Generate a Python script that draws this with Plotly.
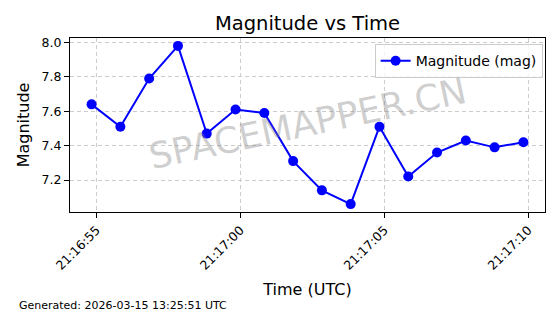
import plotly.graph_objects as go

times = [
    "2026-03-14 21:16:54.830", "2026-03-14 21:16:55.830", "2026-03-14 21:16:56.830",
    "2026-03-14 21:16:57.830", "2026-03-14 21:16:58.830", "2026-03-14 21:16:59.830",
    "2026-03-14 21:17:00.830", "2026-03-14 21:17:01.830", "2026-03-14 21:17:02.830",
    "2026-03-14 21:17:03.830", "2026-03-14 21:17:04.830", "2026-03-14 21:17:05.830",
    "2026-03-14 21:17:06.830", "2026-03-14 21:17:07.830", "2026-03-14 21:17:08.830",
    "2026-03-14 21:17:09.830",
]
magnitudes = [7.64, 7.51, 7.79, 7.98, 7.47, 7.61, 7.59, 7.31, 7.14, 7.06,
              7.51, 7.22, 7.36, 7.43, 7.39, 7.42]
x_tick_vals = ["2026-03-14 21:16:55", "2026-03-14 21:17:00",
               "2026-03-14 21:17:05", "2026-03-14 21:17:10"]
y_tick_vals = [7.2, 7.4, 7.6, 7.8, 8.0]

FONT = "DejaVu Sans"

fig = go.Figure()
fig.add_trace(go.Scatter(
    x=times, y=magnitudes, mode="lines+markers", name="Magnitude (mag)",
    line=dict(color="#0000ff", width=2),
    marker=dict(color="#0000ff", size=10),
))

fig.update_layout(
    width=560, height=314,
    margin=dict(l=70, r=15, t=38, b=102),
    paper_bgcolor="white", plot_bgcolor="white",
    font=dict(family=FONT, color="black", size=12),
    title=dict(text="Magnitude vs Time", x=0.5, xref="paper", xanchor="center",
               y=1 - 23 / 314, yanchor="middle",
               font=dict(size=19.5, family=FONT, color="black")),
    showlegend=True,
    legend=dict(x=0.995, y=0.965, xanchor="right", yanchor="top",
                bgcolor="rgba(255,255,255,0.8)", bordercolor="#cccccc",
                borderwidth=1, font=dict(size=14, family=FONT)),
    xaxis=dict(
        range=["2026-03-14 21:16:54.080", "2026-03-14 21:17:10.580"],
        tickvals=x_tick_vals, tickformat="%H:%M:%S", tickangle=-45,
        ticks="outside", ticklen=5, tickcolor="black",
        showline=True, linecolor="black", linewidth=1, mirror=True,
        showgrid=True, gridcolor="#cccccc", griddash="4px,3px", gridwidth=1,
        zeroline=False,
        title=dict(text="Time (UTC)", font=dict(size=16, family=FONT), standoff=11),
        tickfont=dict(size=12.5, family=FONT),
    ),
    yaxis=dict(
        range=[7.014, 8.026],
        tickvals=y_tick_vals, tickformat=".1f",
        ticks="outside", ticklen=5, tickcolor="black",
        showline=True, linecolor="black", linewidth=1, mirror=True,
        showgrid=True, gridcolor="#cccccc", griddash="4px,3px", gridwidth=1,
        zeroline=False,
        title=dict(text="Magnitude", font=dict(size=16, family=FONT), standoff=8),
        tickfont=dict(size=12.5, family=FONT),
    ),
)

fig.add_annotation(
    text="SPACEMAPPER.CN", xref="paper", yref="paper", x=0.5, y=0.51,
    showarrow=False, textangle=-12,
    font=dict(size=36, family=FONT, color="rgba(128,128,128,0.38)"),
)
fig.add_annotation(
    text="Generated: 2026-03-15 13:25:51 UTC", xref="paper", yref="paper",
    x=(17 - 70) / 475, y=-(305 - 212) / 174, xanchor="left", yanchor="middle",
    showarrow=False, font=dict(size=11, family=FONT, color="black"),
)

fig.write_html("out.html")
